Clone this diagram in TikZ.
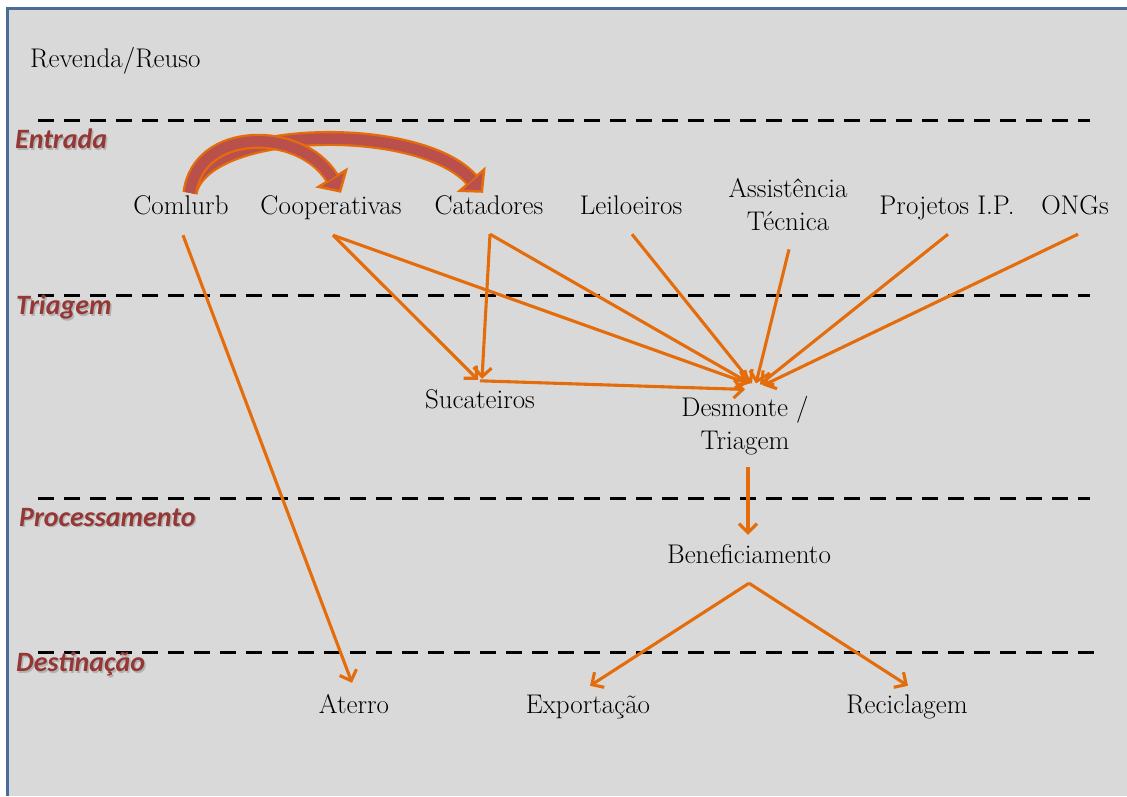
\documentclass[tikz,border=0pt]{standalone}
\usepackage{fontspec}
\usetikzlibrary{arrows.meta}
\newfontfamily\stagefont{Carlito}
\definecolor{panelgray}{HTML}{D9D9D9}
\definecolor{frameblue}{HTML}{4A6C9B}
\definecolor{floworange}{HTML}{E46C0A}
\definecolor{fatred}{HTML}{B9504B}
\definecolor{stagered}{HTML}{953735}
\newcommand\shadowed[1]{\makebox[0pt][l]{\kern1.5pt\raisebox{-1.5pt}{\color{black!30}#1}}#1}

\begin{document}
\begin{tikzpicture}[x=1pt,y=-1pt,
    every node/.style={font=\fontsize{27}{33}\selectfont,inner sep=2pt},
    actor/.style={text height=18.5pt,text depth=5.5pt},
    stage/.style={font=\fontsize{28}{32}\stagefont\bfseries\itshape,text=stagered,anchor=west,inner sep=0pt},
    sep/.style={line width=3pt,dash pattern=on 16pt off 10pt},
    flow/.style={draw=floworange,line width=3.1pt,-{Straight Barb[length=9pt,width=18pt]}},
    bigflow/.style={draw=floworange,line width=15pt,
        -{Triangle[width=38pt,length=18pt,line width=2.5pt,fill=fatred]},
        postaction={draw=fatred,line width=10.5pt,-,shorten >=17pt}}]
   \useasboundingbox (0,0) rectangle (1127,796);
   \fill[white] (0,0) rectangle (1127,796);
   \fill[panelgray] (8,9) rectangle (1127,796);
   \draw[frameblue,line width=3pt] (7.5,796) -- (7.5,8.5) -- (1127,8.5);

   % faixas
   \node[anchor=west,inner sep=0pt] (reuso) at (30,61) {Revenda/Reuso};
   \draw[sep] (38,120) -- (1090,120);
   \node[stage] (entrada) at (15,140) {\shadowed{Entrada}};
   \draw[sep] (38,295) -- (1090,295);
   \node[stage] (triagemlbl) at (16,308) {\shadowed{Triagem}};
   \draw[sep] (38,498) -- (1090,498);
   \node[stage] (processo) at (19,518) {\shadowed{Processamento}};
   \draw[sep] (38,652) -- (1100,652);
   \node[stage] (destino) at (16,665) {\shadowed{Destinação}};

   % entrada
   \node[actor] (comlurb) at (181,208) {Comlurb};
   \node[actor] (coop) at (331,208) {Cooperativas};
   \node[actor] (catadores) at (489,208) {Catadores};
   \node[actor] (leiloeiros) at (631,208) {Leiloeiros};
   \node[align=center] (assist) at (788,205) {Assistência\\Técnica};
   \node[actor] (projetos) at (947,208) {Projetos I.P.};
   \node[actor] (ongs) at (1075,208) {ONGs};

   % triagem e destino
   \node[actor] (sucateiros) at (480,402) {Sucateiros};
   \node[align=center] (desmonte) at (745,426) {Desmonte /\\Triagem};
   \node[actor] (benef) at (749,557) {Beneficiamento};
   \node[actor] (aterro) at (354,707) {Aterro};
   \node[actor] (export) at (588,707) {Exportação};
   \node[actor] (recicla) at (907,707) {Reciclagem};

   % repasse da Comlurb
   \draw[bigflow] ([shift={(9,-1)}]comlurb.north) .. controls +(14,-68) and +(-63,-72) .. ([shift={(-6,-1)}]catadores.north);
   \draw[bigflow] ([shift={(9,-1)}]comlurb.north) .. controls +(8,-66) and +(-40,-66) .. ([shift={(10,-1)}]coop.north);

   \draw[flow] ([shift={(2,13)}]comlurb.south) -- ([shift={(-2,-10)}]aterro.north);
   \draw[flow] ([shift={(2,13)}]coop.south) -- ([shift={(-2,-8)}]sucateiros.north);
   \draw[flow] ([shift={(2,13)}]coop.south) -- ([shift={(3,-11)}]desmonte.north);
   \draw[flow] ([shift={(1,12)}]catadores.south) -- ([shift={(2,-9)}]sucateiros.north);
   \draw[flow] ([shift={(1,12)}]catadores.south) -- ([shift={(5,-11)}]desmonte.north);
   \draw[flow] ([shift={(1,12)}]leiloeiros.south) -- ([shift={(7,-11)}]desmonte.north);
   \draw[flow] ([shift={(1,16)}]assist.south) -- ([shift={(11,-11)}]desmonte.north);
   \draw[flow] ([shift={(1,12)}]projetos.south) -- ([shift={(15,-10)}]desmonte.north);
   \draw[flow] ([shift={(3,12)}]ongs.south) -- ([shift={(18,-9)}]desmonte.north);
   \draw[flow] ([shift={(0,-7)}]sucateiros.north) -- ([shift={(0,-5)}]desmonte.north);

   \draw[flow] ([shift={(3,9)}]desmonte.south) -- ([shift={(-1,-8)}]benef.north);
   \draw[flow] ([shift={(0,12)}]benef.south) -- ([shift={(2,-7)}]export.north);
   \draw[flow] ([shift={(0,12)}]benef.south) -- ([shift={(1,-7)}]recicla.north);
\end{tikzpicture}
\end{document}
